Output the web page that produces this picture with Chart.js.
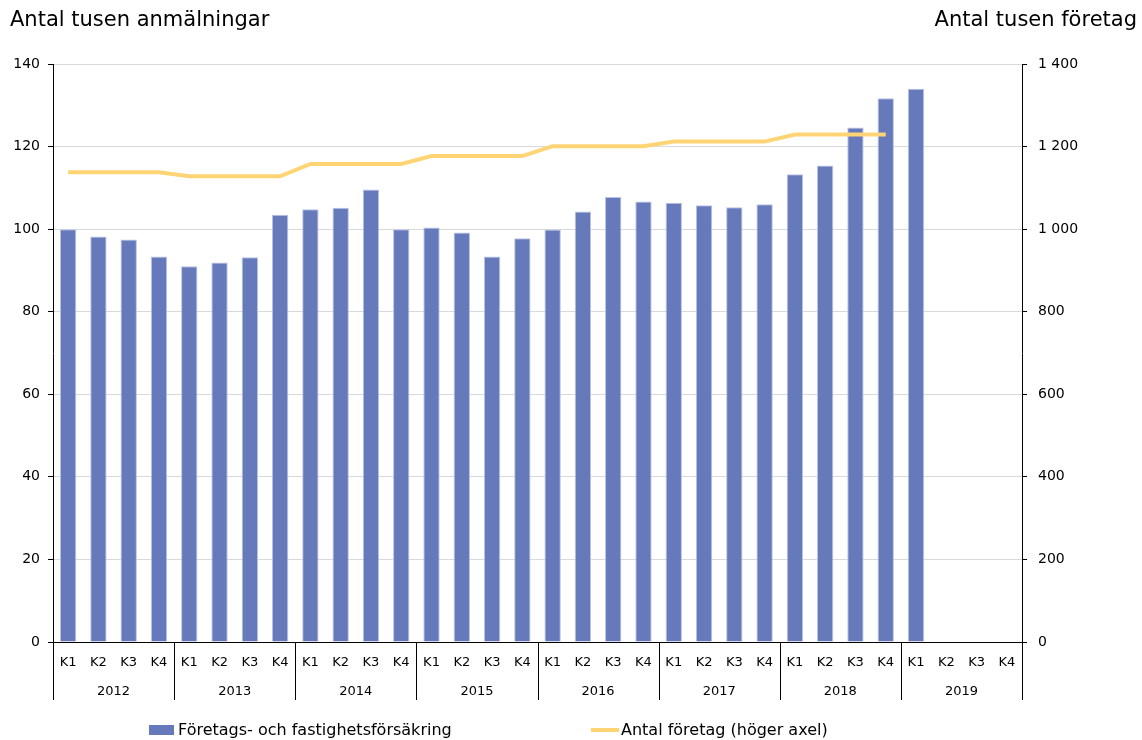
<!DOCTYPE html>
<html>
<head>
<meta charset="utf-8">
<script src="https://cdn.jsdelivr.net/npm/chart.js@4"></script>
<style>
  html, body { margin: 0; padding: 0; background: #fff; }
  #wrap { position: relative; width: 1142px; height: 740px; font-family: "DejaVu Sans", sans-serif; color: #000; }
  #c { position: absolute; left: 0; top: 0; }
  .ttl { position: absolute; top: 7px; font-size: 21px; white-space: nowrap; }
  #tl { left: 10px; }
  #tr { right: 5px; }
  .lg { position: absolute; top: 720px; font-size: 16px; white-space: nowrap; display: flex; align-items: center; }
  .sw { display: inline-block; }
</style>
</head>
<body>
<div id="wrap">
  <canvas id="c" width="1142" height="740"></canvas>
  <div class="ttl" id="tl">Antal tusen anmälningar</div>
  <div class="ttl" id="tr">Antal tusen företag</div>
  <div class="lg" style="left:149px"><span class="sw" style="width:25px;height:10px;background:#6679BB;margin-right:4px"></span>Företags- och fastighetsförsäkring</div>
  <div class="lg" style="left:591px"><span class="sw" style="width:28px;height:4px;background:#FFD475;margin-right:2px"></span>Antal företag (höger axel)</div>
</div>
<script>
const quarters = ["K1","K2","K3","K4","K1","K2","K3","K4","K1","K2","K3","K4","K1","K2","K3","K4",
                  "K1","K2","K3","K4","K1","K2","K3","K4","K1","K2","K3","K4","K1","K2","K3","K4"];
const years = ["2012","2013","2014","2015","2016","2017","2018","2019"];
const anmalningar = [100.0, 98.2, 97.5, 93.4, 91.0, 91.9, 93.2, 103.5,
                     104.8, 105.2, 109.6, 100.0, 100.4, 99.2, 93.4, 97.8,
                     99.9, 104.3, 107.8, 106.7, 106.4, 105.8, 105.3, 106.0,
                     113.3, 115.4, 124.6, 131.7, 134.0, null, null, null];
const antalForetag = [1138, 1138, 1138, 1138, 1128, 1128, 1128, 1128,
                      1158, 1158, 1158, 1158, 1177, 1177, 1177, 1177,
                      1201, 1201, 1201, 1201, 1212, 1212, 1212, 1212,
                      1229, 1229, 1229, 1229, null, null, null, null];
const leftTicks = [0, 20, 40, 60, 80, 100, 120, 140];
const rightTicks = [0, 200, 400, 600, 800, 1000, 1200, 1400];

const FONT = "DejaVu Sans";

const separators = {
  id: 'separators',
  afterDraw(chart) {
    const x = chart.scales.x;
    const ctx = chart.ctx;
    const top = x.top;
    const bottom = chart.scales.x2.bottom;
    ctx.save();
    ctx.strokeStyle = '#000';
    ctx.lineWidth = 1;
    const n = quarters.length;
    for (let i = 0; i <= n; i += 4) {
      let px;
      if (i === 0) px = x.left;
      else if (i === n) px = x.right;
      else px = (x.getPixelForValue(i - 1) + x.getPixelForValue(i)) / 2;
      px = Math.round(px) + 0.5;
      ctx.beginPath();
      ctx.moveTo(px, top);
      ctx.lineTo(px, bottom);
      ctx.stroke();
    }
    ctx.restore();
  }
};

new Chart(document.getElementById('c'), {
  data: {
    labels: quarters,
    datasets: [
      {
        type: 'line',
        label: 'Antal företag (höger axel)',
        data: antalForetag,
        yAxisID: 'y1',
        borderColor: '#FFD475',
        borderWidth: 4,
        pointRadius: 0,
        tension: 0,
        spanGaps: false,
        order: 0
      },
      {
        type: 'bar',
        label: 'Företags- och fastighetsförsäkring',
        data: anmalningar,
        yAxisID: 'y',
        backgroundColor: '#6679BB',
        borderColor: '#B9C2E3',
        borderWidth: 1,
        categoryPercentage: 1.0,
        barPercentage: 0.54,
        order: 1
      }
    ]
  },
  options: {
    responsive: false,
    animation: false,
    layout: { padding: { top: 64, left: 0, right: 0, bottom: 40 } },
    plugins: { legend: { display: false }, tooltip: { enabled: false } },
    scales: {
      x: {
        type: 'category',
        position: 'bottom',
        offset: true,
        grid: { display: false, drawTicks: false },
        border: { display: true, color: '#000', width: 1 },
        ticks: { color: '#000', font: { family: FONT, size: 13 }, padding: 13, maxRotation: 0, autoSkip: false },
        afterFit(s) { s.height = 34; }
      },
      x2: {
        type: 'category',
        position: 'bottom',
        labels: years,
        offset: true,
        grid: { display: false, drawTicks: false },
        border: { display: false },
        ticks: { color: '#000', font: { family: FONT, size: 13 }, padding: 8, maxRotation: 0, autoSkip: false },
        afterFit(s) { s.height = 24; }
      },
      y: {
        position: 'left',
        min: 0, max: 140,
        afterBuildTicks(s) { s.ticks = leftTicks.map(v => ({ value: v })); },
        grid: { color: '#D9D9D9', tickColor: '#000', tickLength: 5, lineWidth: 1 },
        border: { display: true, color: '#000', width: 1 },
        ticks: { color: '#000', font: { family: FONT, size: 14 }, padding: 8 },
        afterFit(s) { s.width = 53; }
      },
      y1: {
        position: 'right',
        min: 0, max: 1400,
        afterBuildTicks(s) { s.ticks = rightTicks.map(v => ({ value: v })); },
        grid: { drawOnChartArea: false, tickColor: '#000', tickLength: 5 },
        border: { display: true, color: '#000', width: 1 },
        ticks: {
          color: '#000', font: { family: FONT, size: 14 }, padding: 11,
          callback: v => String(v).replace(/\B(?=(\d{3})+(?!\d))/g, ' ')
        },
        afterFit(s) { s.width = 120; }
      }
    }
  },
  plugins: [separators]
});
</script>
</body>
</html>
